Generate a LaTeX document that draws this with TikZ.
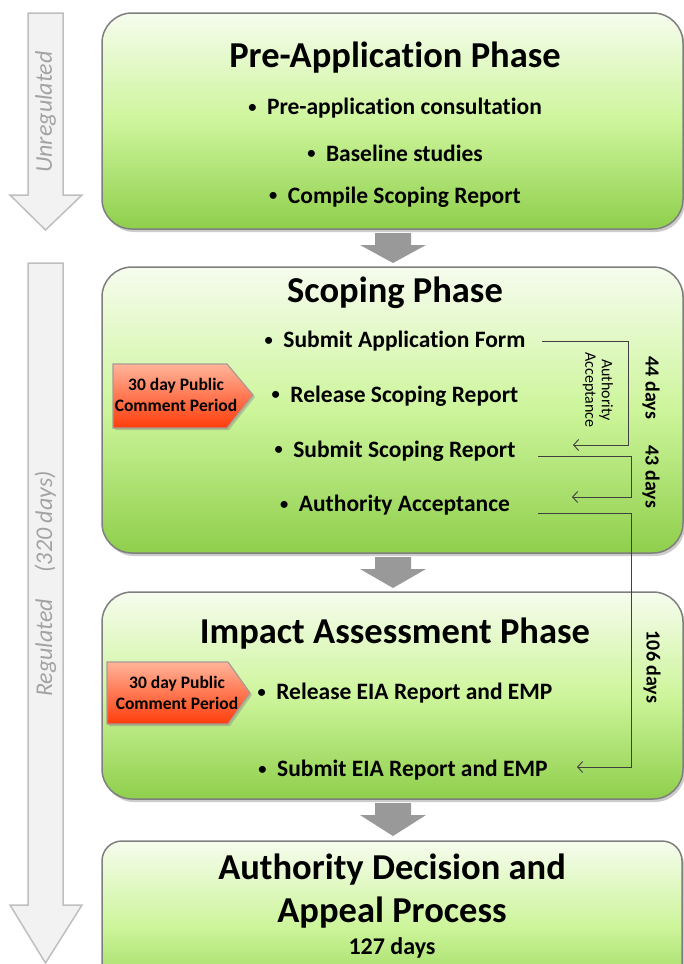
\documentclass[tikz,border=0pt]{standalone}
\usepackage{fontspec}
\usepackage{graphicx}
\setmainfont{Carlito}[Ligatures=NoCommon]
\usetikzlibrary{shadows,arrows.meta}
\definecolor{gtop}{HTML}{F6FCEE}
\definecolor{gmid}{HTML}{CDF59B}
\definecolor{gbot}{HTML}{8FCF4C}
\definecolor{boxline}{HTML}{7F7F7F}
\definecolor{ctop}{HTML}{FFB49A}
\definecolor{cbot}{HTML}{FF3C0A}
\definecolor{cline}{HTML}{A89A94}
\definecolor{bigfill}{HTML}{F2F2F2}
\definecolor{bigline}{HTML}{BFBFBF}
\definecolor{bigtext}{HTML}{A3A3A3}
\definecolor{brk}{HTML}{404040}
\newcommand\phtitle{\fontsize{36.5}{40}\selectfont\bfseries}
\newcommand\phitem{\fontsize{23.5}{27}\selectfont\bfseries}
\newcommand\phbul{\raisebox{0.1em}{\scalebox{0.7}{\textbullet}}\hspace{0.45em}}
\tikzset{
  phase/.style={rectangle, rounded corners=30pt, draw=boxline, line width=1.5pt,
    inner sep=0pt, top color=gtop, bottom color=gbot, middle color=gmid,
    drop shadow={shadow xshift=2pt, shadow yshift=-3pt, opacity=0.4}},
  ttl/.style={font=\phtitle, inner sep=0pt},
  itm/.style={font=\phitem, inner sep=0pt},
  callout/.style={draw=cline, line width=1.2pt, top color=ctop, bottom color=cbot,
    drop shadow={shadow xshift=2pt, shadow yshift=-2pt, opacity=0.4}},
  calltext/.style={font=\fontsize{17.5}{20.5}\selectfont\bfseries, align=center, inner sep=0pt},
  flowarrow/.style={fill=black!40},
  bigarrow/.style={fill=bigfill, draw=bigline, line width=1.5pt},
  bigtxt/.style={font=\fontsize{24}{28}\selectfont\itshape, text=bigtext, rotate=90, inner sep=0pt},
  bracket/.style={draw=brk, line width=0.9pt, -{Straight Barb[length=5pt,width=11pt]}},
  daytxt/.style={font=\fontsize{20}{24}\selectfont\bfseries, rotate=-90, inner sep=0pt},
}
\begin{document}
\begin{tikzpicture}[x=1pt,y=-1pt]
\path[use as bounding box] (0,0) rectangle (684,964);
\clip (0,0) rectangle (684,964);
\fill[white] (0,0) rectangle (684,964);

% left big arrows
\path[bigarrow] (28,13) -- (63,13) -- (63,195) -- (82,195) -- (45.5,230) -- (10,195) -- (28,195) -- cycle;
\node[bigtxt] (unreg) at (45.5,112) {Unregulated};
\path[bigarrow] (28,263) -- (63,263) -- (63,905) -- (82,905) -- (45.5,963) -- (10,905) -- (28,905) -- cycle;
\node[bigtxt] (reg) at (45.5,584) {Regulated\hspace{1.1em}(320 days)};

% phase boxes
\node[phase, minimum width=581pt, minimum height=216pt] (pre) at (392.5,121) {};
\node[phase, minimum width=581pt, minimum height=286pt] (scop) at (392.5,410) {};
\node[phase, minimum width=581pt, minimum height=207pt] (imp) at (392.5,695.5) {};
\node[phase, rounded corners=20pt, minimum width=580pt, minimum height=170pt] (auth) at (392,926) {};

% flow arrows
\path[flowarrow] (375,233) -- (411,233) -- (411,245) -- (426,245) -- (393,263) -- (360,245) -- (375,245) -- cycle;
\path[flowarrow] (375,557) -- (411,557) -- (411,569) -- (426,569) -- (393,588) -- (360,569) -- (375,569) -- cycle;
\path[flowarrow] (375,803) -- (411,803) -- (411,815) -- (426,815) -- (393,836) -- (360,815) -- (375,815) -- cycle;

% pre-application
\node[ttl] (preT) at (395,58) {Pre-Application Phase};
\node[itm] (pre1) at (395,108) {\phbul Pre-application consultation};
\node[itm] (pre2) at (395,153) {\phbul Baseline studies};
\node[itm] (pre3) at (395,197) {\phbul Compile Scoping Report};

% scoping
\node[ttl] (scT) at (395,293) {Scoping Phase};
\node[itm] (sc1) at (395,341) {\phbul Submit Application Form};
\node[itm] (sc2) at (395,396) {\phbul Release Scoping Report};
\node[itm] (sc3) at (395,451) {\phbul Submit Scoping Report};
\node[itm] (sc4) at (395,505) {\phbul Authority Acceptance};

% impact
\node[ttl] (imT) at (395,634) {Impact Assessment Phase};
\node[itm] (im1) at (405,693) {\phbul Release EIA Report and EMP};
\node[itm] (im2) at (403,770) {\phbul Submit EIA Report and EMP};

% authority
\node[font=\fontsize{36.5}{40}\selectfont\bfseries, inner sep=0pt] (auT1) at (392,870) {Authority Decision and};
\node[font=\fontsize{36.5}{40}\selectfont\bfseries, inner sep=0pt] (auT2) at (392,913) {Appeal Process};
\node[font=\fontsize{24}{28}\selectfont\bfseries, inner sep=0pt] (auD) at (392,948) {127 days};

% callouts
\path[callout] (113,364) -- (227,364) -- (253,395) -- (227,428) -- (113,428) -- cycle;
\node[calltext] (c1) at (176,395) {30 day Public\\Comment Period};
\path[callout] (107,662) -- (228,662) -- (250,693) -- (228,724) -- (107,724) -- cycle;
\node[calltext] (c2) at (177,693) {30 day Public\\Comment Period};

% brackets
\coordinate (b1s) at (542,341);
\coordinate (b1k) at (628,445);
\coordinate (b1e) at (573,445);
\draw[bracket] (b1s) -| (b1k) -- (b1e);
\coordinate (b2s) at (538,456);
\coordinate (b2k) at (631,497);
\coordinate (b2e) at (572,497);
\draw[bracket] (b2s) -| (b2k) -- (b2e);
\coordinate (b3s) at (538,513);
\coordinate (b3k) at (631,767);
\coordinate (b3e) at (577,767);
\draw[bracket] (b3s) -| (b3k) -- (b3e);

\node[font=\fontsize{16}{16.5}\selectfont, align=center, rotate=-90, inner sep=0pt] (aa) at (598,390) {Authority\\Acceptance};
\node[daytxt] (d44) at (651,388) {44 days};
\node[daytxt] (d43) at (651,477) {43 days};
\node[daytxt] (d106) at (652,667) {106 days};
\end{tikzpicture}
\end{document}
